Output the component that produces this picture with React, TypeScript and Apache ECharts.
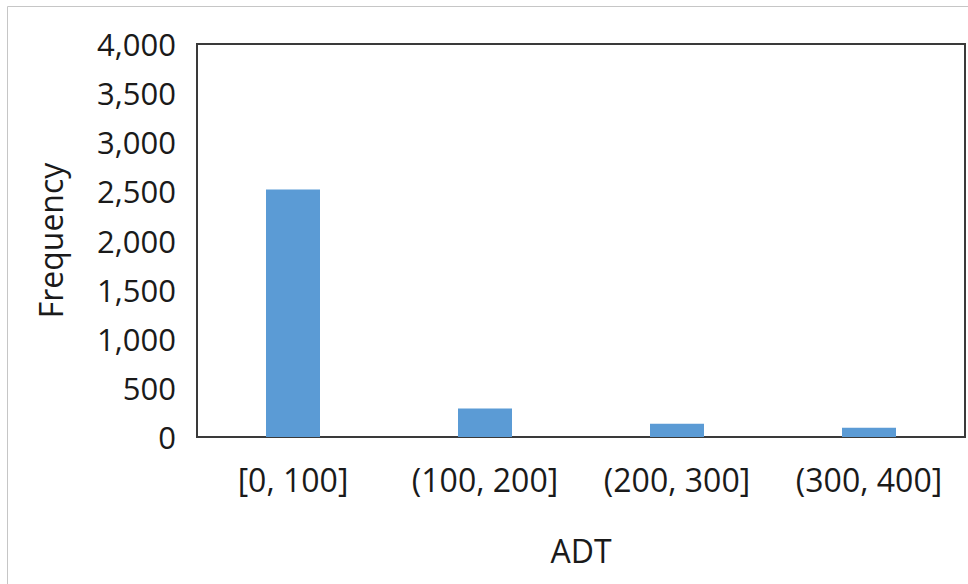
import React, { useEffect, useRef } from "react";
import * as echarts from "echarts";

const categories = ["[0, 100]", "(100, 200]", "(200, 300]", "(300, 400]"];
const frequencies = [2520, 290, 135, 95];
const yTicks = { min: 0, max: 4000, interval: 500 };

export default function App() {
  const ref = useRef<HTMLDivElement>(null);
  useEffect(() => {
    const chart = echarts.init(ref.current!, null, { renderer: "svg" });
    const font = "'Open Sans', 'Noto Sans', sans-serif";
    chart.setOption({
      animation: false,
      backgroundColor: "#ffffff",
      textStyle: { fontFamily: font },
      graphic: [
        {
          type: "rect",
          shape: { x: 7.5, y: 6.5, width: 1200, height: 1200 },
          style: { fill: "none", stroke: "#c6c6c6", lineWidth: 1 },
          silent: true,
        },
      ],
      grid: {
        left: 197,
        top: 44,
        right: 3,
        bottom: 147,
        show: true,
        borderColor: "#3a3a3a",
        borderWidth: 2,
        backgroundColor: "transparent",
      },
      xAxis: {
        type: "category",
        data: categories,
        name: "ADT",
        nameLocation: "middle",
        nameGap: 97,
        nameTextStyle: { fontSize: 32, color: "#1a1a1a", fontFamily: font },
        axisLine: { show: true, lineStyle: { color: "#3a3a3a", width: 2 } },
        axisTick: { show: false },
        axisLabel: { fontSize: 32, color: "#1a1a1a", margin: 26, fontFamily: font },
        splitLine: { show: false },
      },
      yAxis: {
        type: "value",
        min: yTicks.min,
        max: yTicks.max,
        interval: yTicks.interval,
        name: "Frequency",
        nameLocation: "middle",
        nameGap: 131,
        nameRotate: 90,
        nameTextStyle: { fontSize: 32, color: "#1a1a1a", fontFamily: font },
        axisLine: { show: true, lineStyle: { color: "#3a3a3a", width: 2 } },
        axisTick: { show: false },
        splitLine: { show: false },
        axisLabel: {
          fontSize: 31,
          color: "#1a1a1a",
          margin: 21,
          fontFamily: font,
          formatter: (v: number) => v.toLocaleString("en-US"),
        },
      },
      series: [
        {
          type: "bar",
          data: frequencies,
          barWidth: 54,
          itemStyle: { color: "#5b9bd5" },
        },
      ],
    });
    return () => chart.dispose();
  }, []);
  return (
    <div
      ref={ref}
      style={{ position: "fixed", left: 0, top: 0, width: 968, height: 584 }}
    />
  );
}
